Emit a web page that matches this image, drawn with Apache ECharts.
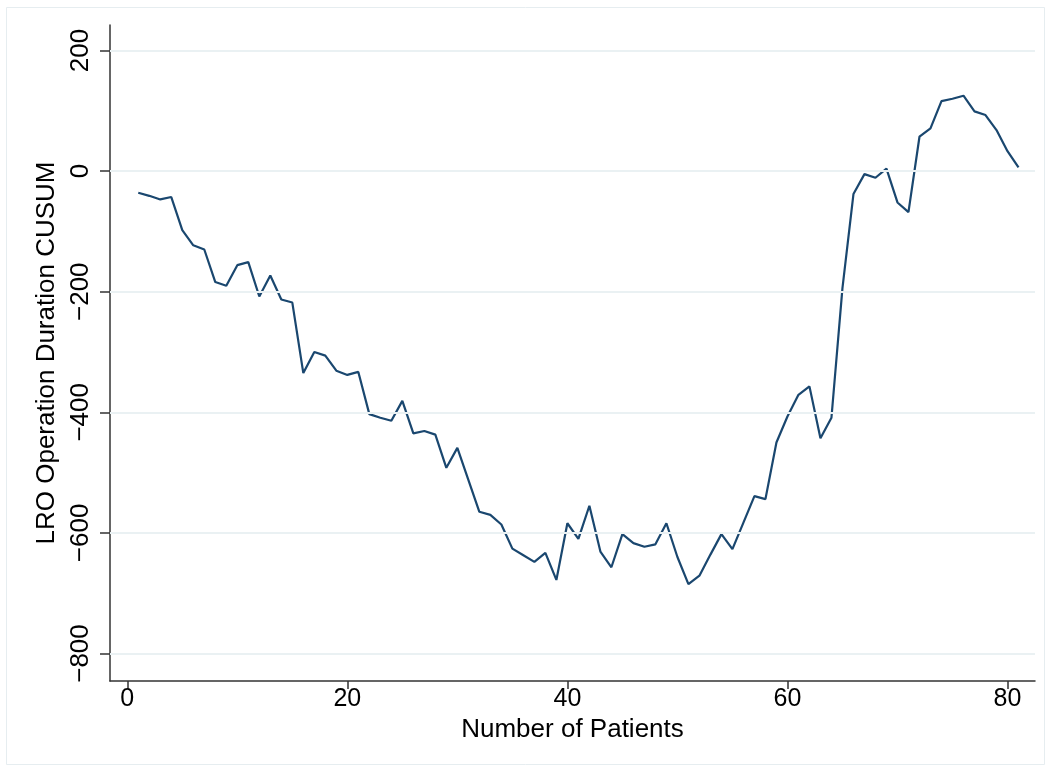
<!DOCTYPE html>
<html>
<head>
<meta charset="utf-8">
<script src="https://cdn.jsdelivr.net/npm/echarts@6.0.0/dist/echarts.min.js"></script>
<style>
  html, body { margin: 0; padding: 0; background: #ffffff; }
  #chart { width: 1051px; height: 772px; }
</style>
</head>
<body>
<div id="chart"></div>
<script>
// ---- data ----
const patients = [];
for (let i = 1; i <= 81; i++) patients.push(i);
const cusum = [
  -36, -41, -47, -43, -98, -123, -130, -184, -190, -156,
  -151, -208, -173, -213, -218, -335, -300, -306, -331, -338,
  -333, -403, -409, -414, -381, -435, -431, -437, -492, -459,
  -512, -565, -570, -586, -626, -637, -648, -633, -678, -584,
  -610, -555, -631, -657, -602, -617, -623, -619, -584, -640,
  -685, -671, -636, -602, -627, -583, -539, -544, -450, -407,
  -371, -357, -443, -409, -194, -38, -5, -11, 4, -52,
  -68, 57, 71, 116, 120, 125, 99, 93, 68, 33, 6
];
const xTicks = [0, 20, 40, 60, 80];
const yTicks = [-800, -600, -400, -200, 0, 200];
const xTitle = 'Number of Patients';
const yTitle = 'LRO Operation Duration CUSUM';

const FONT = "'Liberation Sans', Arial, Helvetica, sans-serif";
const fmt = v => String(v).replace('-', '\u2212');

const chart = echarts.init(document.getElementById('chart'), null, { renderer: 'canvas' });
chart.setOption({
  animation: false,
  backgroundColor: '#ffffff',
  textStyle: { fontFamily: FONT },
  graphic: [{
    type: 'rect',
    shape: { x: 6.5, y: 7.5, width: 1038, height: 757 },
    style: { fill: 'none', stroke: '#e6edf0', lineWidth: 1 },
    silent: true,
    z: -10
  }],
  grid: { left: 110, right: 16, top: 25, bottom: 91, containLabel: false },
  xAxis: {
    type: 'value',
    min: -1.57,
    max: 82.5,
    name: xTitle,
    nameLocation: 'middle',
    nameGap: 27,
    nameTextStyle: { fontSize: 26, color: '#000', fontFamily: FONT },
    axisLine: { show: true, onZero: false, lineStyle: { color: '#333', width: 1.5 } },
    axisTick: { show: true, customValues: xTicks, length: 8, lineStyle: { color: '#333', width: 1.5 } },
    axisLabel: { customValues: xTicks, fontSize: 25, color: '#000', margin: 6, fontFamily: FONT, formatter: fmt },
    splitLine: { show: false }
  },
  yAxis: {
    type: 'value',
    min: -845.6,
    max: 242.3,
    name: yTitle,
    nameLocation: 'middle',
    nameGap: 48,
    nameRotate: 90,
    nameTextStyle: { fontSize: 26, color: '#000', fontFamily: FONT },
    axisLine: { show: true, onZero: false, lineStyle: { color: '#333', width: 1.5 } },
    axisTick: { show: true, customValues: yTicks, length: 10, lineStyle: { color: '#333', width: 1.5 } },
    axisLabel: { customValues: yTicks, rotate: 90, fontSize: 26, color: '#000', margin: 16, fontFamily: FONT, formatter: fmt },
    splitLine: { show: false }
  },
  series: [
    {
      type: 'line',
      data: [],
      z: 1,
      silent: true,
      markLine: {
        silent: true,
        symbol: ['none', 'none'],
        label: { show: false },
        lineStyle: { color: '#eaf1f3', width: 2, type: 'solid' },
        emphasis: { disabled: true },
        data: yTicks.map(v => ({ yAxis: v }))
      }
    },
    {
      type: 'line',
      z: 3,
      data: patients.map((p, i) => [p, cusum[i]]),
      showSymbol: false,
      symbol: 'none',
      lineStyle: { color: '#1a476f', width: 2.2 },
      itemStyle: { color: '#1a476f' }
    }
  ]
});
</script>
</body>
</html>
